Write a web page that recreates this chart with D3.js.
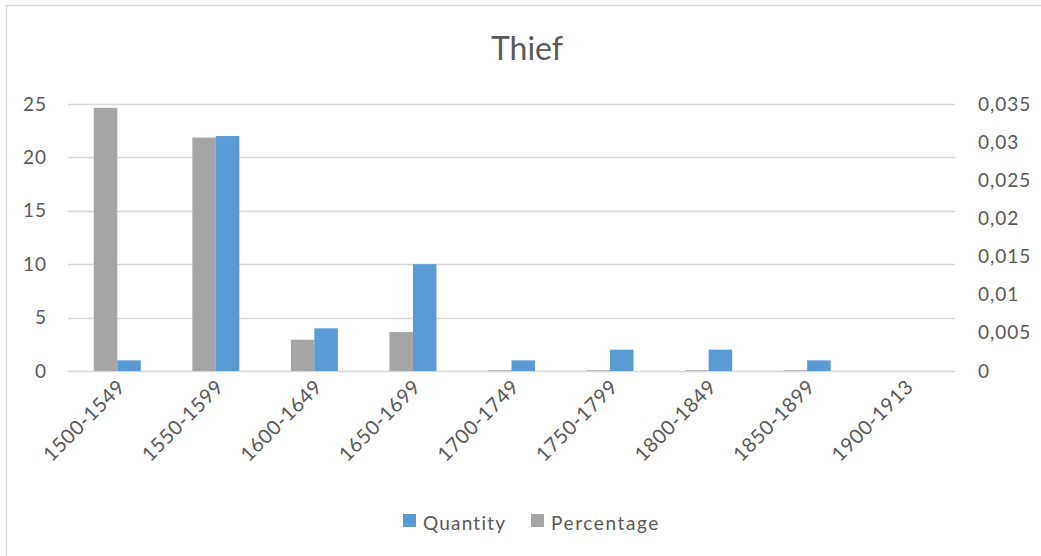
<!DOCTYPE html>
<html>
<head>
<meta charset="utf-8">
<script src="https://cdn.jsdelivr.net/npm/d3@7"></script>
<style>
  html, body { margin: 0; padding: 0; background: #fff; }
  svg { display: block; font-family: Lato, "Open Sans", sans-serif; }
</style>
</head>
<body>
<svg id="chart" width="1041" height="556"></svg>
<script>
const title = "Thief";
const categories = ["1500-1549","1550-1599","1600-1649","1650-1699","1700-1749","1750-1799","1800-1849","1850-1899","1900-1913"];
const quantity = [1, 22, 4, 10, 1, 2, 2, 1, 0];
const percentage = [0.0345, 0.0306, 0.0041, 0.0051, 0.0001, 0.0001, 0.0001, 0.0001, 0];
const leftTicks = [0, 5, 10, 15, 20, 25];
const rightTicks = [0, 0.005, 0.01, 0.015, 0.02, 0.025, 0.03, 0.035];
const seriesNames = ["Quantity", "Percentage"];
const seriesColors = ["#5b9bd5", "#a5a5a5"];

const svg = d3.select("#chart");
const textColor = "#595959";
const gridColor = "#d9d9d9";

// chart border (extends beyond the window on right/bottom)
svg.append("rect")
  .attr("x", 6.5).attr("y", 5.5)
  .attr("width", 1100).attr("height", 600)
  .attr("fill", "none").attr("stroke", gridColor).attr("stroke-width", 1.5);

const plot = { left: 68, right: 955, top: 104, bottom: 371 };

const x = d3.scaleBand().domain(categories).range([plot.left, plot.right]).padding(0);
const yL = d3.scaleLinear().domain([0, 25]).range([plot.bottom, plot.top]);
const yR = d3.scaleLinear().domain([0, 0.035]).range([plot.bottom, plot.top]);

const locale = d3.formatLocale({ decimal: ",", thousands: ".", grouping: [3], currency: ["", ""] });
const fmtR = locale.format("~g");

// gridlines
svg.append("g").selectAll("line").data(leftTicks).join("line")
  .attr("x1", plot.left).attr("x2", plot.right)
  .attr("y1", d => Math.round(yL(d)) + 0.5).attr("y2", d => Math.round(yL(d)) + 0.5)
  .attr("stroke", gridColor).attr("stroke-width", 1.5);

// left axis
const axL = svg.append("g").attr("transform", `translate(${plot.left},0)`)
  .call(d3.axisLeft(yL).tickValues(leftTicks).tickSize(0).tickPadding(21));
axL.select(".domain").remove();
axL.selectAll("text").attr("fill", textColor).style("font-size", "19px")
  .style("letter-spacing", "1px").style("font-family", "Lato, sans-serif");

// right axis
const axR = svg.append("g").attr("transform", `translate(${plot.right},0)`)
  .call(d3.axisRight(yR).tickValues(rightTicks).tickFormat(fmtR).tickSize(0).tickPadding(23));
axR.select(".domain").remove();
axR.selectAll("text").attr("fill", textColor).style("font-size", "19px")
  .style("letter-spacing", "1px").style("font-family", "Lato, sans-serif");

// bars
const gap = 2.19;
const bw = x.bandwidth() / (2 + gap);
const groups = svg.append("g").selectAll("g").data(categories).join("g");

groups.append("rect")
  .attr("x", (d) => x(d) + x.bandwidth() / 2 - bw)
  .attr("width", bw)
  .attr("y", (d, i) => yR(percentage[i]))
  .attr("height", (d, i) => plot.bottom - yR(percentage[i]))
  .attr("fill", seriesColors[1]);

groups.append("rect")
  .attr("x", (d) => x(d) + x.bandwidth() / 2)
  .attr("width", bw)
  .attr("y", (d, i) => yL(quantity[i]))
  .attr("height", (d, i) => plot.bottom - yL(quantity[i]))
  .attr("fill", seriesColors[0]);

// x axis labels
const axX = svg.append("g").attr("transform", `translate(0,${plot.bottom})`)
  .call(d3.axisBottom(x).tickSize(0).tickPadding(0));
axX.select(".domain").remove();
axX.selectAll("text")
  .attr("fill", textColor)
  .style("font-size", "20px").style("letter-spacing", "0.6px").style("font-family", "Lato, sans-serif")
  .attr("text-anchor", "end")
  .attr("dy", null).attr("y", 0)
  .attr("transform", "translate(9,17) rotate(-45)");

// title
svg.append("text")
  .attr("x", 527).attr("y", 60)
  .attr("text-anchor", "middle")
  .attr("fill", textColor)
  .style("font-size", "32px").style("font-family", "Lato, sans-serif")
  .text(title);

// legend
const legendItems = [
  { name: seriesNames[0], color: seriesColors[0], x: 403, ls: "1.2px" },
  { name: seriesNames[1], color: seriesColors[1], x: 531, ls: "1.6px" }
];
const lg = svg.append("g").selectAll("g").data(legendItems).join("g")
  .attr("transform", d => `translate(${d.x},514)`);
lg.append("rect").attr("width", 13).attr("height", 13).attr("fill", d => d.color);
lg.append("text").attr("x", 20).attr("y", 16)
  .attr("fill", textColor)
  .style("font-size", "19px").style("letter-spacing", d => d.ls).style("font-family", "Lato, sans-serif")
  .text(d => d.name);
</script>
</body>
</html>
